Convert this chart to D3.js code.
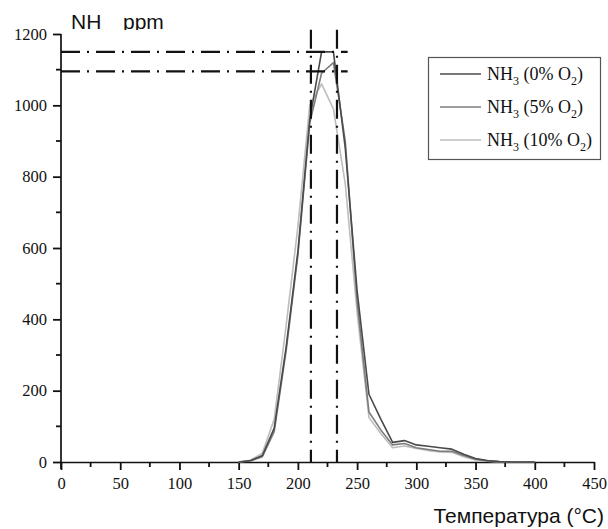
<!DOCTYPE html>
<html>
<meta charset="utf-8">
<style>
body { margin: 0; background: #fff; }
svg { display: block; }
</style>
<body>
</body>
<script src="https://cdn.jsdelivr.net/npm/d3@7"></script>
<script>

// temperatures (°C) and NH3 concentration (ppm)
var temps   = [150, 160, 170, 180, 190, 200, 210, 220, 230, 240, 250, 260, 270, 280, 290, 300, 310, 320, 330, 340, 350, 360, 370, 380, 390, 400];
var nh3_0   = [0, 4, 18, 95, 320, 590, 960, 1150, 1150, 880, 480, 190, 120, 55, 60, 48, 44, 40, 36, 22, 10, 4, 1, 0, 0, 0];
var nh3_5   = [0, 3, 15, 85, 310, 580, 950, 1090, 1120, 900, 450, 140, 90, 48, 52, 40, 35, 30, 30, 18, 8, 3, 1, 0, 0, 0];
var nh3_10  = [0, 5, 25, 120, 380, 660, 1000, 1060, 990, 780, 420, 125, 80, 40, 45, 38, 32, 28, 27, 15, 6, 2, 0, 0, 0, 0];

var seriesLabels = ["0%", "5%", "10%"];
var seriesColors = ["#4a4a4a", "#7c7c7c", "#bdbdbd"];

var xTicks = [0, 50, 100, 150, 200, 250, 300, 350, 400, 450];
var yTicks = [0, 200, 400, 600, 800, 1000, 1200];
var xMinor = [25, 75, 125, 175, 225, 275, 325, 375, 425];
var yMinor = [100, 300, 500, 700, 900, 1100];

// dash-dot guide lines
var refTemps  = [211, 233];
var refLevels = [1150, 1095];

var width = 608, height = 529;

var svg = d3.select("body").append("svg")
    .attr("width", width)
    .attr("height", height);

var x = d3.scaleLinear().domain([0, 450]).range([61, 594]);
var y = d3.scaleLinear().domain([0, 1200]).range([462, 34]);

var xAxis = svg.append("g")
    .attr("transform", "translate(0," + y(0) + ")")
    .call(d3.axisBottom(x).tickValues(xTicks).tickSize(8).tickPadding(7).tickSizeOuter(0).tickFormat(d3.format("d")));

var yAxis = svg.append("g")
    .attr("transform", "translate(" + x(0) + ",0)")
    .call(d3.axisLeft(y).tickValues(yTicks).tickSize(8).tickPadding(6).tickSizeOuter(0).tickFormat(d3.format("d")));

// y axis runs a little past the x axis, as in the picture
yAxis.select(".domain").attr("d", "M0," + y(1200) + "V" + (y(0) + 7));

svg.selectAll(".domain").attr("stroke", "#111").attr("stroke-width", 1.7);
svg.selectAll(".tick line").attr("stroke", "#111").attr("stroke-width", 1.8);
svg.selectAll(".tick text")
    .attr("fill", "#111")
    .style("font-family", "'Liberation Serif', 'Times New Roman', serif")
    .style("font-size", "16.5px");

// minor tick marks
var tk = svg.append("g").attr("stroke", "#111").attr("stroke-width", 1.8);
tk.selectAll(".xt").data(xMinor).enter().append("line")
    .attr("x1", function (d) { return x(d); }).attr("x2", function (d) { return x(d); })
    .attr("y1", y(0)).attr("y2", y(0) + 5);
tk.selectAll(".yt").data(yMinor).enter().append("line")
    .attr("y1", function (d) { return y(d); }).attr("y2", function (d) { return y(d); })
    .attr("x1", x(0)).attr("x2", x(0) - 5);

// data lines
var seriesData = [nh3_0, nh3_5, nh3_10];
var line = d3.line()
    .x(function (d) { return x(d[0]); })
    .y(function (d) { return y(d[1]); });

svg.append("g").selectAll("path")
    .data(seriesData.slice().reverse())
  .enter().append("path")
    .attr("fill", "none")
    .attr("stroke", function (d, i) { return seriesColors[2 - i]; })
    .attr("stroke-width", 1.6)
    .attr("stroke-linejoin", "round")
    .attr("d", function (vals) {
      return line(temps.map(function (t, i) { return [t, vals[i]]; }));
    });

// dash-dot guides
var guides = svg.append("g")
    .attr("stroke", "#111")
    .attr("stroke-width", 2.2)
    .attr("stroke-dasharray", "19,7,2,7")
    .attr("fill", "none");

guides.selectAll(".hguide")
    .data(refLevels)
  .enter().append("line")
    .attr("class", "hguide")
    .attr("x1", x(0))
    .attr("x2", x(242))
    .attr("y1", function (d) { return y(d); })
    .attr("y2", function (d) { return y(d); });

guides.selectAll(".vguide")
    .data(refTemps)
  .enter().append("line")
    .attr("class", "vguide")
    .attr("x1", function (d) { return x(d); })
    .attr("x2", function (d) { return x(d); })
    .attr("y1", y(1212))
    .attr("y2", y(0));

// legend
var legend = svg.append("g");
legend.append("rect")
    .attr("x", 428.5).attr("y", 57.5)
    .attr("width", 172).attr("height", 102)
    .attr("fill", "#fff")
    .attr("stroke", "#555")
    .attr("stroke-width", 1.2);

var rows = legend.selectAll(".row")
    .data(seriesLabels)
  .enter().append("g")
    .attr("class", "row")
    .attr("transform", function (d, i) { return "translate(0," + (80 + i * 33) + ")"; });

rows.append("line")
    .attr("x1", 440).attr("x2", 481)
    .attr("y1", -6).attr("y2", -6)
    .attr("stroke", function (d, i) { return seriesColors[i]; })
    .attr("stroke-width", 1.6);

var lt = rows.append("text")
    .attr("x", 487)
    .attr("fill", "#111")
    .style("font-family", "'Liberation Serif', 'Times New Roman', serif")
    .style("font-size", "18px");
lt.append("tspan").text("NH");
lt.append("tspan").attr("dy", 5).style("font-size", "12px").text("3");
lt.append("tspan").attr("dy", -5).text(function (d) { return " (" + d + " O"; });
lt.append("tspan").attr("dy", 5).style("font-size", "12px").text("2");
lt.append("tspan").attr("dy", -5).text(")");

// axis titles
svg.append("clipPath").attr("id", "topclip")
  .append("rect").attr("x", 0).attr("y", 0).attr("width", 300).attr("height", 30);

var ttl = svg.append("g").attr("clip-path", "url(#topclip)")
    .style("font-family", "'Liberation Sans', Arial, sans-serif")
    .style("font-size", "21px")
    .attr("fill", "#111");
ttl.append("text").attr("x", 71).attr("y", 29).text("NH");
ttl.append("text").attr("x", 123).attr("y", 29).text("ppm");

svg.append("text")
    .attr("x", 604)
    .attr("y", 523)
    .attr("text-anchor", "end")
    .attr("fill", "#111")
    .style("font-family", "'Liberation Sans', Arial, sans-serif")
    .style("font-size", "21px")
    .text("Температура (°C)");

</script>
</html>
